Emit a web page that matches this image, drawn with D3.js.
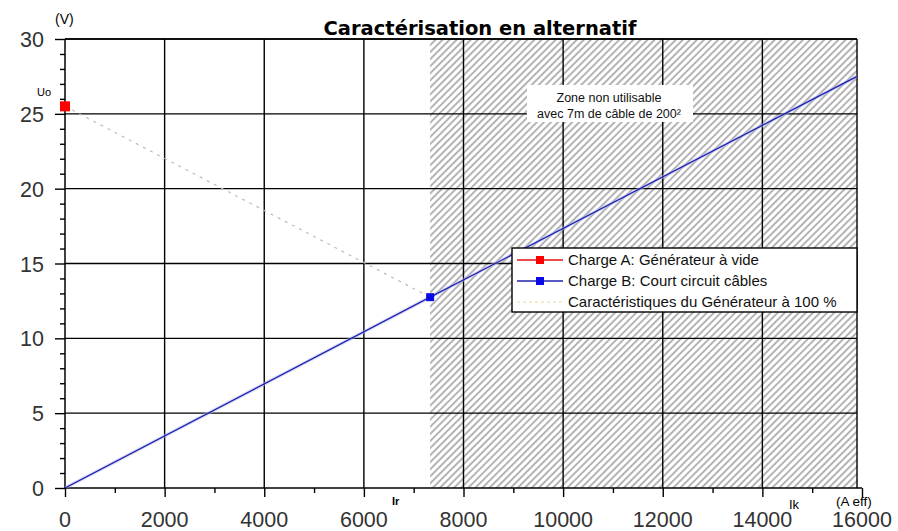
<!DOCTYPE html>
<html>
<head>
<meta charset="utf-8">
<script src="https://cdn.jsdelivr.net/npm/d3@7"></script>
<style>
  body { margin: 0; background: #fff; }
  text { font-family: "Liberation Sans", Arial, sans-serif; }
</style>
</head>
<body>
<div id="graph-container"></div>
<script>
// values
const xTicks = [0, 2000, 4000, 6000, 8000, 10000, 12000, 14000, 16000];
const yTicks = [0, 5, 10, 15, 20, 25, 30];
const chargeA = [{ i: 0, u: 25.5 }];
const chargeB = [{ i: 0, u: 0 }, { i: 7330, u: 12.75 }, { i: 15900, u: 27.5 }];
const chargeBMarks = [{ i: 7330, u: 12.75 }];
const generateur = [{ i: 0, u: 25.5 }, { i: 7330, u: 12.75 }];
const zoneStart = 7330;
const plotEnd = 15900;
const legendLabels = [
  "Charge A: Générateur à vide",
  "Charge B: Court circuit câbles",
  "Caractéristiques du Générateur à 100 %"
];
const zoneLabels = ["Zone non utilisable", "avec 7m de câble de 200²"];

const width = 898, height = 531;

const svg = d3.select("#graph-container")
  .append("svg")
  .attr("width", width)
  .attr("height", height);

const xScale = d3.scaleLinear().domain([0, 16000]).range([65, 862]);
const yScale = d3.scaleLinear().domain([0, 30]).range([488, 39]);

const pLeft = xScale(0), pRight = xScale(plotEnd);
const pTop = yScale(30), pBottom = yScale(0);

// hatch pattern
const defs = svg.append("defs");
const pat = defs.append("pattern")
  .attr("id", "hatch")
  .attr("patternUnits", "userSpaceOnUse")
  .attr("width", 5)
  .attr("height", 5)
  .attr("patternTransform", "rotate(45)");
pat.append("rect").attr("width", 5).attr("height", 5).attr("fill", "#fff");
pat.append("rect").attr("width", 2).attr("height", 5).attr("fill", "#b4b4b4");

defs.append("clipPath").attr("id", "plot-clip")
  .append("rect")
  .attr("x", pLeft).attr("y", pTop)
  .attr("width", pRight - pLeft).attr("height", pBottom - pTop);

// zone non utilisable
svg.append("rect")
  .attr("x", xScale(zoneStart))
  .attr("y", pTop)
  .attr("width", pRight - xScale(zoneStart))
  .attr("height", pBottom - pTop)
  .attr("fill", "url(#hatch)");

// grid
svg.append("g")
  .selectAll("line")
  .data(xTicks.filter(d => d > 0 && d < 16000))
  .join("line")
  .attr("x1", d => xScale(d)).attr("x2", d => xScale(d))
  .attr("y1", pTop).attr("y2", pBottom)
  .attr("stroke", "#000").attr("stroke-width", 1.4);

svg.append("g")
  .selectAll("line")
  .data(yTicks.filter(d => d > 0))
  .join("line")
  .attr("x1", pLeft).attr("x2", pRight)
  .attr("y1", d => yScale(d)).attr("y2", d => yScale(d))
  .attr("stroke", "#000").attr("stroke-width", 1.4);

svg.append("line")
  .attr("x1", pRight).attr("x2", pRight)
  .attr("y1", pTop).attr("y2", pBottom)
  .attr("stroke", "#000").attr("stroke-width", 1.4);

// zone label
svg.append("rect")
  .attr("x", 527).attr("y", 85)
  .attr("width", 166).attr("height", 37)
  .attr("fill", "#fff");
svg.append("g")
  .selectAll("text")
  .data(zoneLabels)
  .join("text")
  .attr("x", 609)
  .attr("y", (d, i) => 102 + i * 16)
  .attr("text-anchor", "middle")
  .attr("font-size", "12.5px")
  .attr("fill", "#111")
  .text(d => d);

// axes
const xAxis = d3.axisBottom(xScale)
  .tickValues(d3.range(0, 16001, 1000))
  .tickSize(5)
  .tickFormat("");
const gx = svg.append("g").attr("transform", `translate(0,${pBottom})`).call(xAxis);
gx.selectAll(".tick line")
  .attr("y2", d => d % 2000 === 0 ? 9 : 5)
  .attr("stroke-width", 1.4);
gx.select(".domain").attr("stroke-width", 1.5).attr("d", `M${pLeft},0H${xScale(16000)}`);

svg.append("g")
  .selectAll("text")
  .data(xTicks)
  .join("text")
  .attr("x", d => xScale(d))
  .attr("y", 527)
  .attr("text-anchor", "middle")
  .attr("font-size", "21.5px")
  .attr("fill", "#333")
  .text(d => d);

const yAxis = d3.axisLeft(yScale)
  .tickValues(d3.range(0, 31, 1))
  .tickSize(5)
  .tickFormat("");
const gy = svg.append("g").attr("transform", `translate(${pLeft},0)`).call(yAxis);
gy.selectAll(".tick line")
  .attr("x2", d => d % 5 === 0 ? -10 : -5)
  .attr("stroke-width", 1.4);
gy.select(".domain").attr("stroke-width", 1.5).attr("d", `M0,${pTop}V${pBottom}`);

svg.append("g")
  .selectAll("text")
  .data(yTicks)
  .join("text")
  .attr("x", 44)
  .attr("y", d => yScale(d) + 8)
  .attr("text-anchor", "end")
  .attr("font-size", "21.5px")
  .attr("fill", "#333")
  .text(d => d);

// top border
svg.append("line")
  .attr("x1", pLeft).attr("x2", pRight)
  .attr("y1", pTop).attr("y2", pTop)
  .attr("stroke", "#000").attr("stroke-width", 1.5);

// series
const line = d3.line().x(d => xScale(d.i)).y(d => yScale(d.u));
const series = svg.append("g").attr("clip-path", "url(#plot-clip)");

series.append("path")
  .datum(generateur)
  .attr("d", line)
  .attr("fill", "none")
  .attr("stroke", "#bdbdb0")
  .attr("stroke-width", 1.2)
  .attr("stroke-dasharray", "3,5");

series.append("path")
  .datum(chargeB)
  .attr("d", line)
  .attr("fill", "none")
  .attr("stroke", "#b8c0f0")
  .attr("stroke-width", 3.5)
  .attr("opacity", 0.5);
series.append("path")
  .datum(chargeB)
  .attr("d", line)
  .attr("fill", "none")
  .attr("stroke", "#2222b0")
  .attr("stroke-width", 1.3);

svg.append("g")
  .selectAll("rect")
  .data(chargeBMarks)
  .join("rect")
  .attr("x", d => xScale(d.i) - 4)
  .attr("y", d => yScale(d.u) - 4)
  .attr("width", 8).attr("height", 8)
  .attr("fill", "#0a0ae6");

svg.append("g")
  .selectAll("rect")
  .data(chargeA)
  .join("rect")
  .attr("x", d => xScale(d.i) - 5)
  .attr("y", d => yScale(d.u) - 5)
  .attr("width", 10).attr("height", 10)
  .attr("fill", "#f00");

// legend
const legend = svg.append("g").attr("transform", "translate(512,248)");
legend.append("rect")
  .attr("width", 345).attr("height", 64)
  .attr("fill", "#fff")
  .attr("stroke", "#000").attr("stroke-width", 1.4);
const colors = ["#e01010", "#2222b0", "#e8d8a0"];
const row = legend.selectAll("g")
  .data(legendLabels)
  .join("g")
  .attr("transform", (d, i) => `translate(0,${12 + i * 21})`);
row.append("line")
  .attr("x1", 5).attr("x2", 51)
  .attr("stroke", (d, i) => colors[i])
  .attr("stroke-width", (d, i) => i === 2 ? 1 : 1.4)
  .attr("stroke-dasharray", (d, i) => i === 2 ? "3,3" : null);
row.filter((d, i) => i < 2)
  .append("rect")
  .attr("x", 24).attr("y", -4)
  .attr("width", 8).attr("height", 8)
  .attr("fill", (d, i) => i === 0 ? "#f00" : "#0a0ae6");
row.append("text")
  .attr("x", 56)
  .attr("y", 5)
  .attr("font-size", "15px")
  .attr("fill", "#111")
  .text(d => d);

// titles and units
svg.append("text")
  .attr("x", 480).attr("y", 35)
  .attr("text-anchor", "middle")
  .style("font-family", "'DejaVu Sans', sans-serif")
  .style("font-weight", "bold")
  .style("font-size", "19.5px")
  .text("Caractérisation en alternatif");

svg.append("text").attr("x", 55).attr("y", 24).attr("font-size", "14px").text("(V)");
svg.append("text").attr("x", 37).attr("y", 96).attr("font-size", "11px").text("Uo");
svg.append("text").attr("x", 392).attr("y", 505).attr("font-size", "11px").attr("font-weight", "bold").text("Ir");
svg.append("text").attr("x", 789).attr("y", 509).attr("font-size", "13px").text("Ik");
svg.append("text").attr("x", 836).attr("y", 506).attr("font-size", "13.5px").text("(A eff)");
</script>
</body>
</html>
